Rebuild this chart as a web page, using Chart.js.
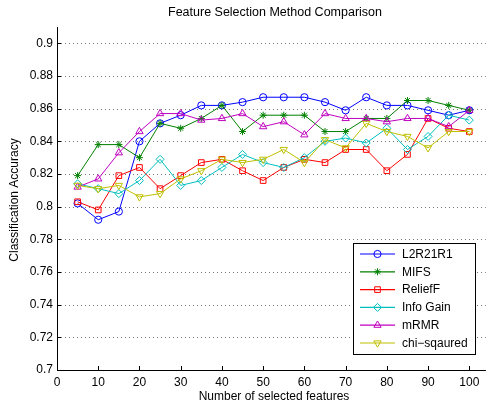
<!DOCTYPE html>
<html>
<head>
<meta charset="utf-8">
<script src="https://cdn.jsdelivr.net/npm/chart.js@4/dist/chart.umd.min.js"></script>
<style>
  html, body { margin: 0; padding: 0; background: #fff; }
  #wrap { width: 491px; height: 409px; }
</style>
</head>
<body>
<div id="wrap"><canvas id="graf"></canvas></div>
<script>
// dados
const features = [5, 10, 15, 20, 25, 30, 35, 40, 45, 50, 55, 60, 65, 70, 75, 80, 85, 90, 95, 100];
const l2r21r1 = [0.802, 0.792, 0.797, 0.840, 0.851, 0.856, 0.862, 0.862, 0.864, 0.867, 0.867, 0.867, 0.864, 0.859, 0.867, 0.862, 0.862, 0.859, 0.856, 0.859];
const mifs = [0.819, 0.838, 0.838, 0.830, 0.851, 0.848, 0.854, 0.862, 0.846, 0.856, 0.856, 0.856, 0.846, 0.846, 0.854, 0.854, 0.865, 0.865, 0.862, 0.859];
const reliefF = [0.803, 0.798, 0.819, 0.824, 0.811, 0.819, 0.827, 0.829, 0.822, 0.816, 0.824, 0.829, 0.827, 0.835, 0.835, 0.822, 0.832, 0.854, 0.848, 0.846];
const infoGain = [0.814, 0.811, 0.808, 0.816, 0.829, 0.813, 0.816, 0.824, 0.832, 0.827, 0.824, 0.830, 0.840, 0.842, 0.839, 0.848, 0.835, 0.843, 0.856, 0.853];
const mrmr = [0.812, 0.817, 0.833, 0.846, 0.857, 0.857, 0.853, 0.854, 0.857, 0.849, 0.852, 0.844, 0.857, 0.854, 0.854, 0.852, 0.854, 0.854, 0.849, 0.859];
const chiSq = [0.813, 0.811, 0.813, 0.806, 0.808, 0.817, 0.822, 0.829, 0.827, 0.829, 0.835, 0.827, 0.841, 0.836, 0.851, 0.846, 0.843, 0.836, 0.846, 0.846];

const xTicks = [0, 10, 20, 30, 40, 50, 60, 70, 80, 90, 100];
const yTicks = [0.7, 0.72, 0.74, 0.76, 0.78, 0.8, 0.82, 0.84, 0.86, 0.88, 0.9];

const titulo = "Feature Selection Method Comparison";
const xTitulo = "Number of selected features";
const yTitulo = "Classification Accuracy";

const series = [
  { label: "L2R21R1", data: l2r21r1, cor: "#0000ff", estilo: "circle", raio: 3.6, rot: 0 },
  { label: "MIFS", data: mifs, cor: "#008000", estilo: "star", raio: 3.5, rot: 0 },
  { label: "ReliefF", data: reliefF, cor: "#ff0000", estilo: "rect", raio: 4, rot: 0 },
  { label: "Info Gain", data: infoGain, cor: "#00bfbf", estilo: "rectRot", raio: 4, rot: 0 },
  { label: "mRMR", data: mrmr, cor: "#bf00bf", estilo: "triangle", raio: 4.2, rot: 0 },
  { label: "chi\u2212sqaured", data: chiSq, cor: "#bfbf00", estilo: "triangle", raio: 4.2, rot: 180 },
];

const fonte = "'Liberation Sans', Arial, sans-serif";
Chart.defaults.font.family = fonte;
Chart.defaults.font.size = 12;
Chart.defaults.color = "#000";

// grade pontilhada horizontal
const grade = {
  id: "grade",
  beforeDatasetsDraw(chart) {
    const ctx = chart.ctx;
    const a = chart.chartArea;
    const sy = chart.scales.y;
    ctx.save();
    ctx.strokeStyle = "#777";
    ctx.lineWidth = 1;
    ctx.setLineDash([1, 3]);
    ctx.beginPath();
    yTicks.forEach(v => {
      const py = Math.round(sy.getPixelForValue(v)) + 0.5;
      ctx.moveTo(a.left, py);
      ctx.lineTo(a.right, py);
    });
    ctx.stroke();
    ctx.restore();
  }
};

// títulos, eixos com ticks para dentro e legenda no estilo MATLAB
const extras = {
  id: "extras",
  afterDraw(chart) {
    const ctx = chart.ctx;
    const a = chart.chartArea;
    const sx = chart.scales.x, sy = chart.scales.y;
    ctx.save();
    ctx.fillStyle = "#000";
    ctx.font = "12.5px " + fonte;
    ctx.textAlign = "center";
    ctx.textBaseline = "middle";
    ctx.fillText(titulo, 275, 13);
    ctx.font = "12px " + fonte;
    ctx.fillText(xTitulo, 274, 397);
    ctx.save();
    ctx.translate(15, 200);
    ctx.rotate(-Math.PI / 2);
    ctx.fillText(yTitulo, 0, 0);
    ctx.restore();

    // eixos
    ctx.strokeStyle = "#000";
    ctx.lineWidth = 1;
    ctx.beginPath();
    ctx.moveTo(a.left + 0.5, a.top);
    ctx.lineTo(a.left + 0.5, a.bottom + 0.5);
    ctx.lineTo(a.right, a.bottom + 0.5);
    xTicks.forEach(v => {
      const px = Math.round(sx.getPixelForValue(v)) + 0.5;
      ctx.moveTo(px, a.bottom);
      ctx.lineTo(px, a.bottom - 4);
    });
    yTicks.forEach(v => {
      const py = Math.round(sy.getPixelForValue(v)) + 0.5;
      ctx.moveTo(a.left, py);
      ctx.lineTo(a.left + 4, py);
    });
    ctx.stroke();

    // legenda
    const lx = 353, ly = 243, lw = 122, lh = 111;
    ctx.fillStyle = "#fff";
    ctx.fillRect(lx, ly, lw, lh);
    ctx.strokeRect(lx + 0.5, ly + 0.5, lw, lh);
    ctx.textAlign = "left";
    series.forEach((s, i) => {
      const y = 254 + i * 17.8;
      ctx.strokeStyle = s.cor;
      ctx.lineWidth = 1.2;
      ctx.beginPath();
      ctx.moveTo(360, y);
      ctx.lineTo(395, y);
      ctx.stroke();
      ctx.lineWidth = 1;
      ctx.fillStyle = "rgba(0,0,0,0)";
      Chart.helpers.drawPoint(ctx, {
        pointStyle: s.estilo, radius: s.raio, rotation: s.rot, borderWidth: 1
      }, 377.5, y);
      ctx.fillStyle = "#000";
      ctx.fillText(s.label, 402, y + 0.5);
    });
    ctx.restore();
  }
};

new Chart(document.getElementById("graf"), {
  type: "line",
  data: {
    labels: features,
    datasets: series.map((s, i) => ({
      label: s.label,
      data: features.map((f, j) => ({ x: f, y: s.data[j] })),
      borderColor: s.cor,
      backgroundColor: "rgba(0,0,0,0)",
      pointBorderColor: s.cor,
      pointBackgroundColor: "rgba(0,0,0,0)",
      borderWidth: 1,
      pointBorderWidth: 1,
      pointStyle: s.estilo,
      pointRadius: s.raio,
      pointRotation: s.rot,
      tension: 0,
      order: series.length - i
    }))
  },
  options: {
    responsive: true,
    maintainAspectRatio: false,
    animation: false,
    layout: { padding: { top: 27, right: 2, left: 0, bottom: 0 } },
    plugins: { legend: { display: false }, tooltip: { enabled: false } },
    scales: {
      x: {
        type: "linear",
        min: 0,
        max: 104,
        afterBuildTicks: sc => { sc.ticks = xTicks.map(v => ({ value: v })); },
        afterFit: sc => { sc.height = 39; },
        grid: { display: false, drawTicks: false },
        border: { display: false },
        ticks: { padding: 5, maxRotation: 0, font: { size: 12 } }
      },
      y: {
        min: 0.7,
        max: 0.91,
        afterBuildTicks: sc => { sc.ticks = yTicks.map(v => ({ value: v })); },
        afterFit: sc => { sc.width = 57; },
        grid: { display: false, drawTicks: false },
        border: { display: false },
        ticks: {
          padding: 4,
          font: { size: 12 },
          callback: v => String(Number(v.toFixed(2)))
        }
      }
    }
  },
  plugins: [grade, extras]
});
</script>
</body>
</html>
